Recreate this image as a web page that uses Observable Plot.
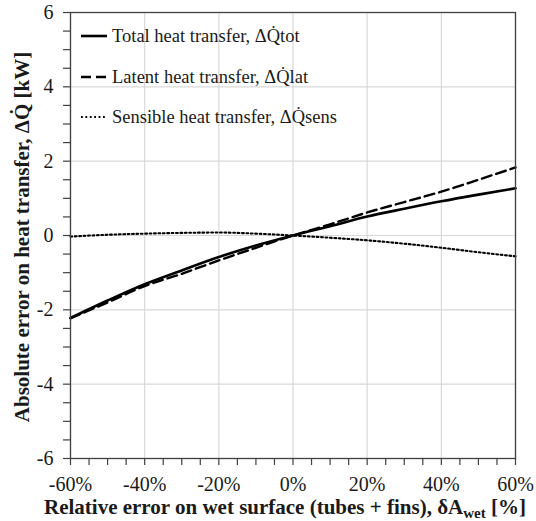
<!DOCTYPE html>
<html><head><meta charset="utf-8">
<script src="https://cdn.jsdelivr.net/npm/d3@7"></script>
<script src="https://cdn.jsdelivr.net/npm/@observablehq/plot@0.6"></script>
<style>
body{margin:0;background:#fff}
#chart{width:536px;height:521px}
</style>
</head><body><div id="chart"></div>
<script>
// Relative error on wet surface [%]
const xPct  = [-60, -50, -40, -30, -20, -10, 0, 10, 20, 30, 40, 50, 60];
// Absolute error on heat transfer [kW]
const qTot  = [-2.22, -1.75, -1.31, -0.94, -0.58, -0.27, 0, 0.25, 0.51, 0.72, 0.92, 1.10, 1.27];
const qLat  = [-2.23, -1.80, -1.36, -1.03, -0.67, -0.33, 0, 0.30, 0.62, 0.90, 1.18, 1.50, 1.83];
const qSens = [-0.03, 0.02, 0.05, 0.07, 0.08, 0.05, 0, -0.06, -0.13, -0.22, -0.33, -0.45, -0.56];

const xTicks = [-60, -40, -20, 0, 20, 40, 60];
const xTickLabels = ["-60%", "-40%", "-20%", "0%", "20%", "40%", "60%"];
const xMinorTicks = d3.range(-60, 60.001, 5);
const yTicks = [-6, -4, -2, 0, 2, 4, 6];
const yTickLabels = ["-6", "-4", "-2", "0", "2", "4", "6"];
const yMinorTicks = d3.range(-6, 6.001, 0.5);

const seriesNames = ["Total heat transfer, \u0394Q\u0307tot", "Latent heat transfer, \u0394Q\u0307lat", "Sensible heat transfer, \u0394Q\u0307sens"];
const seriesDash = [null, "10,5", "1.8,2.6"];
const seriesWidth = [2.6, 2.4, 2.1];

const rows = xPct.map((x, i) => ({x, tot: qTot[i], lat: qLat[i], sens: qSens[i]}));
const keys = ["tot", "lat", "sens"];

const FONT = "Liberation Serif";
const AX = "#404040";
const TXT = "#1a1a1a";

const plot = Plot.plot({
  width: 536, height: 521,
  marginLeft: 70, marginRight: 21, marginTop: 12, marginBottom: 63,
  style: {fontSize: "20px", color: TXT, background: "#fff", overflow: "visible"},
  x: {domain: [-60, 60]},
  y: {domain: [-6, 6]},
  marks: [
    Plot.gridX(xTicks, {stroke: "#d9d9d9", strokeOpacity: 1, strokeWidth: 1.2}),
    Plot.gridY(yTicks, {stroke: "#d9d9d9", strokeOpacity: 1, strokeWidth: 1.2}),
    Plot.axisX(xMinorTicks, {tickSize: 7, tickFormat: () => "", label: null, stroke: AX, strokeWidth: 1.2}),
    Plot.axisY(yMinorTicks, {tickSize: 7, tickFormat: () => "", label: null, stroke: AX, strokeWidth: 1.2}),
    Plot.axisX(xTicks, {tickSize: 0, tickPadding: 18, tickFormat: d => xTickLabels[xTicks.indexOf(d)], label: null, fontSize: 20}),
    Plot.axisY(yTicks, {tickSize: 0, tickPadding: 17, tickFormat: d => yTickLabels[yTicks.indexOf(d)], label: null, fontSize: 20}),
    ...keys.map((k, i) => Plot.line(rows, {x: "x", y: k, stroke: "#000", strokeWidth: seriesWidth[i], strokeDasharray: seriesDash[i], curve: "monotone-x"})),
    Plot.frame({stroke: AX, strokeWidth: 1.3})
  ]
});

const svg = d3.select(plot);
svg.style("font-family", FONT);

// Legend
const legendY = [36, 77, 117];
const lg = svg.append("g").attr("text-anchor", "start").attr("font-size", 18.5).attr("fill", TXT);
seriesNames.forEach((name, i) => {
  lg.append("line").attr("x1", 81).attr("x2", 107).attr("y1", legendY[i]).attr("y2", legendY[i])
    .attr("stroke", "#000").attr("stroke-width", seriesWidth[i]).attr("stroke-dasharray", seriesDash[i]);
  lg.append("text").attr("x", 112).attr("y", legendY[i]).attr("dy", "0.35em").text(name);
});

// X axis title
const xt = svg.append("text").attr("x", 285).attr("y", 514).attr("text-anchor", "middle")
  .attr("font-size", 21).attr("font-weight", "bold").attr("fill", TXT);
xt.append("tspan").text("Relative error on wet surface (tubes + fins), \u03B4A");
xt.append("tspan").attr("dy", 4).attr("font-size", 15).text("wet");
xt.append("tspan").attr("dy", -4).text(" [%]");

// Y axis title
svg.append("text").attr("transform", "translate(29,237) rotate(-90)").attr("text-anchor", "middle")
  .attr("font-size", 21).attr("font-weight", "bold").attr("fill", TXT)
  .text("Absolute error on heat transfer, \u0394Q\u0307 [kW]");

svg.selectAll("text").style("font-family", FONT);

document.getElementById("chart").appendChild(plot);
</script>
</body></html>
